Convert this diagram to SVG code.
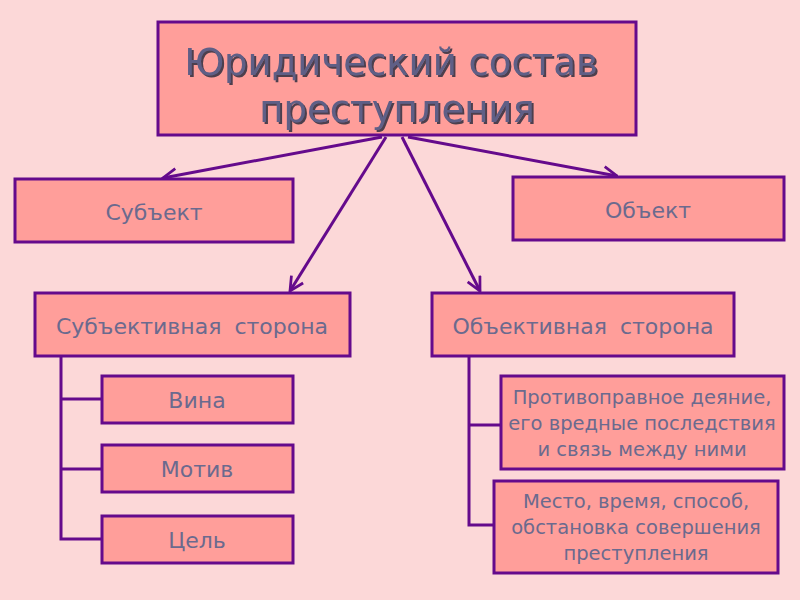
<svg xmlns="http://www.w3.org/2000/svg" width="800" height="600" viewBox="0 0 800 600">
<defs>
<style>
.box{fill:#ff9e9a;stroke:#650a8c;stroke-width:3}
.t{font-family:"DejaVu Sans","Liberation Sans",sans-serif;fill:#6b6a8e;text-anchor:middle;font-size:22px}
.ts{font-family:"DejaVu Sans","Liberation Sans",sans-serif;fill:#6b6a8e;text-anchor:middle;font-size:19.5px}
.title{font-family:"DejaVu Sans","Liberation Sans",sans-serif;fill:#5e5e86;text-anchor:middle;font-size:37px;filter:url(#shadow)}
.c{stroke:#650a8c;stroke-width:3;fill:none}
</style>
<filter id="shadow" x="-10%" y="-20%" width="120%" height="150%">
<feDropShadow dx="2" dy="2" stdDeviation="0.6" flood-color="#2e2e40" flood-opacity="0.85"/>
</filter>
<marker id="ah" viewBox="0 0 12 12" refX="11" refY="6" markerWidth="5.5" markerHeight="5.5" orient="auto" markerUnits="strokeWidth">
<path d="M1,1 L11,6 L1,11" fill="none" stroke="#650a8c" stroke-width="2"/>
</marker>
</defs>
<rect width="800" height="600" fill="#fcd8d8"/>
<g id="connectors">
<line class="c" x1="382" y1="137" x2="163" y2="178" marker-end="url(#ah)"/>
<line class="c" x1="386" y1="137" x2="290" y2="291" marker-end="url(#ah)"/>
<line class="c" x1="402" y1="137" x2="480" y2="291" marker-end="url(#ah)"/>
<line class="c" x1="408" y1="137" x2="617" y2="176" marker-end="url(#ah)"/>
<polyline class="c" points="61,356 61,539 102,539"/>
<line class="c" x1="61" y1="399" x2="102" y2="399"/>
<line class="c" x1="61" y1="469" x2="102" y2="469"/>
<polyline class="c" points="469,356 469,525 494,525"/>
<line class="c" x1="469" y1="425" x2="501" y2="425"/>
</g>
<g id="title">
<rect class="box" x="158" y="22" width="478" height="113"/>
<text class="title" x="391" y="75">Юридический состав</text>
<text class="title" x="397" y="122">преступления</text>
</g>
<g id="subject">
<rect class="box" x="15" y="179" width="278" height="63"/>
<text class="t" x="154" y="220">Субъект</text>
</g>
<g id="object">
<rect class="box" x="513" y="177" width="271" height="63"/>
<text class="t" x="648" y="218">Объект</text>
</g>
<g id="subj-side">
<rect class="box" x="35" y="293" width="315" height="63"/>
<text class="t" x="192" y="334" word-spacing="6">Субъективная сторона</text>
</g>
<g id="obj-side">
<rect class="box" x="432" y="293" width="302" height="63"/>
<text class="t" x="583" y="334" word-spacing="6">Объективная сторона</text>
</g>
<g id="vina">
<rect class="box" x="102" y="376" width="191" height="47"/>
<text class="t" x="197" y="408">Вина</text>
</g>
<g id="motiv">
<rect class="box" x="102" y="445" width="191" height="47"/>
<text class="t" x="197" y="477">Мотив</text>
</g>
<g id="cel">
<rect class="box" x="102" y="516" width="191" height="47"/>
<text class="t" x="197" y="548">Цель</text>
</g>
<g id="deyanie">
<rect class="box" x="501" y="376" width="283" height="93"/>
<text class="ts" x="642" y="404">Противоправное деяние,</text>
<text class="ts" x="642" y="430">его вредные последствия</text>
<text class="ts" x="642" y="456">и связь между ними</text>
</g>
<g id="mesto">
<rect class="box" x="494" y="481" width="284" height="92"/>
<text class="ts" x="636" y="508">Место, время, способ,</text>
<text class="ts" x="636" y="534">обстановка совершения</text>
<text class="ts" x="636" y="560">преступления</text>
</g>
</svg>
